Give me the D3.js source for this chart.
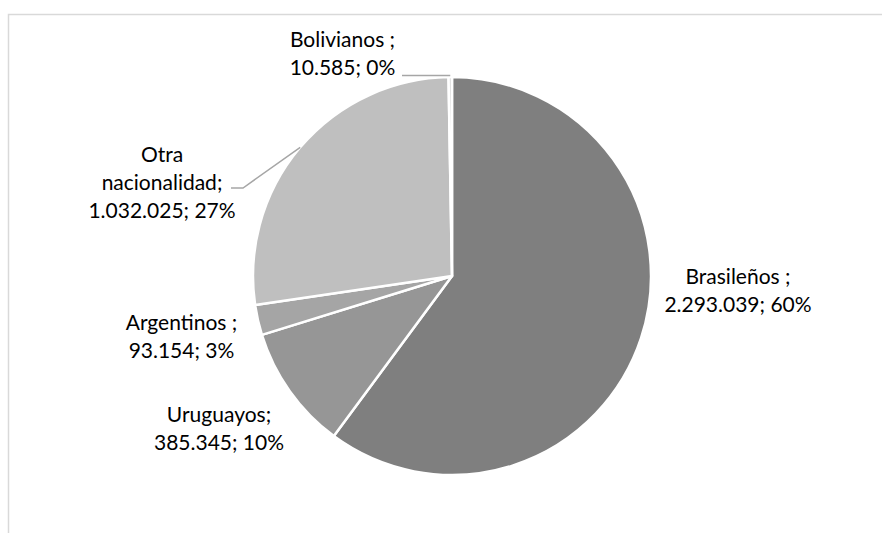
<!DOCTYPE html>
<html>
<head>
<meta charset="utf-8">
<script src="https://cdn.jsdelivr.net/npm/d3@7"></script>
<style>
  html, body { margin: 0; padding: 0; background: #fff; }
  svg { display: block; }
</style>
</head>
<body>
<svg id="chart" width="882" height="533"></svg>
<script>
// Población por nacionalidad
const categories = ["Brasileños ", "Uruguayos", "Argentinos ", "Otra\nnacionalidad", "Bolivianos "];
const values = [2293039, 385345, 93154, 1032025, 10585];
const percentLabels = ["60%", "10%", "3%", "27%", "0%"];
const colors = ["#7f7f7f", "#969696", "#a5a5a5", "#bfbfbf", "#d9d9d9"];

const width = 882, height = 533;
const cx = 452, cy = 276, radius = 199;
const lineHeight = 28;

// label anchors (centre x, first baseline) relative to the pie centre
const labelAnchor = [
  [286, 8],
  [-233, 146],
  [-270.5, 54],
  [-290, -114],
  [-109.5, -229]
];
// leader lines: elbow/end points relative to the pie centre (null = none)
const leaderPoints = [
  null,
  null,
  null,
  [[-209, -88], [-221, -88]],
  [[-50, -200.5]]
];

const numFmt = d3.formatLocale({ decimal: ",", thousands: ".", grouping: [3], currency: ["", ""] }).format(",d");

const svg = d3.select("#chart");

// chart area frame
svg.append("rect")
  .attr("x", 8.5).attr("y", 14.5)
  .attr("width", width + 20).attr("height", height + 20)
  .attr("fill", "none")
  .attr("stroke", "#d9d9d9")
  .attr("stroke-width", 1.5);

const g = svg.append("g").attr("transform", `translate(${cx},${cy})`);

const pie = d3.pie().sort(null).value(d => d);
const arcs = pie(values);
const arc = d3.arc().innerRadius(0).outerRadius(radius);

g.selectAll("path.slice")
  .data(arcs)
  .join("path")
  .attr("class", "slice")
  .attr("d", arc)
  .attr("fill", (d, i) => colors[i])
  .attr("stroke", "#ffffff")
  .attr("stroke-width", 2.5)
  .attr("stroke-linejoin", "round");

// leader lines start on the rim at each slice's mid-angle
arcs.forEach((d, i) => {
  if (!leaderPoints[i]) return;
  const mid = (d.startAngle + d.endAngle) / 2;
  const start = [Math.sin(mid) * radius, -Math.cos(mid) * radius];
  const pts = [start].concat(leaderPoints[i]);
  if (i === 4) pts[0] = [start[0], -200.5];
  g.append("polyline")
    .attr("points", pts.map(p => p.join(",")).join(" "))
    .attr("fill", "none")
    .attr("stroke", "#a6a6a6")
    .attr("stroke-width", 1.5);
});

// data labels: name; value; percent
arcs.forEach((d, i) => {
  const nameLines = categories[i].split("\n");
  nameLines[nameLines.length - 1] += ";";
  const lines = nameLines.concat([numFmt(values[i]) + "; " + percentLabels[i]]);
  const t = g.append("text")
    .attr("text-anchor", "middle")
    .attr("font-family", "Lato, 'Open Sans', sans-serif")
    .attr("font-size", 21)
    .attr("fill", "#000");
  lines.forEach((s, k) => {
    t.append("tspan")
      .attr("x", labelAnchor[i][0])
      .attr("y", labelAnchor[i][1] + k * lineHeight)
      .attr("xml:space", "preserve")
      .text(s);
  });
});
</script>
</body>
</html>
